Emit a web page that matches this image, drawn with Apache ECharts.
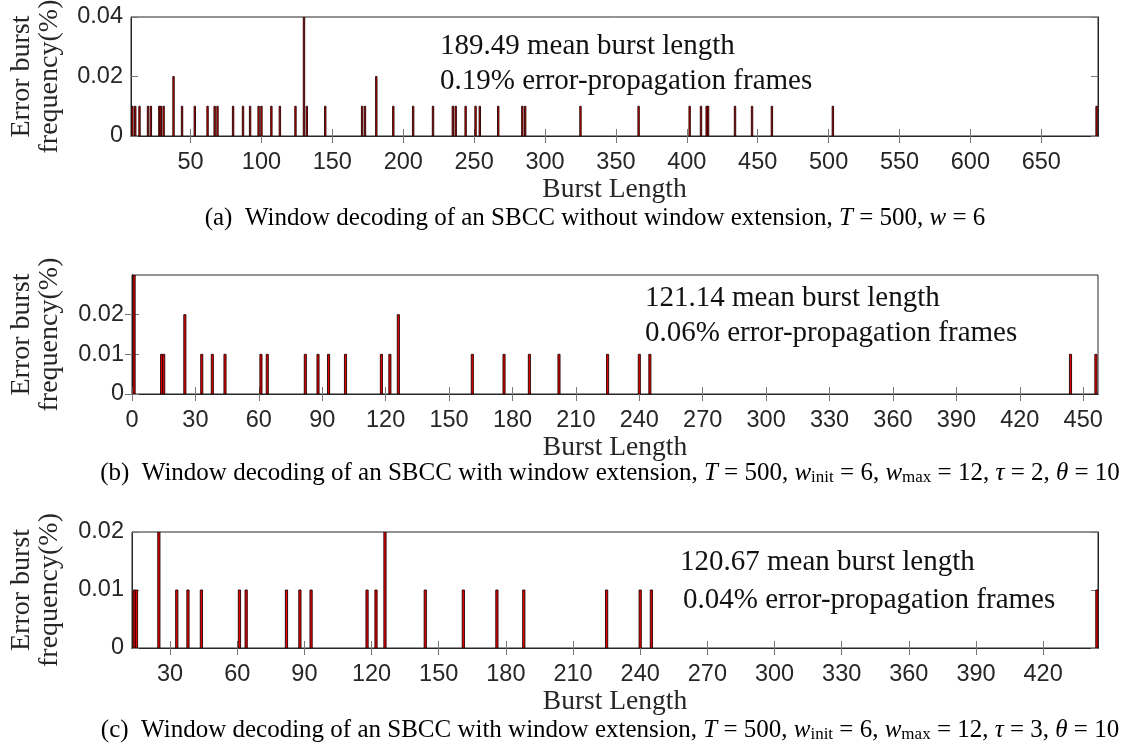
<!DOCTYPE html>
<html>
<head>
<meta charset="utf-8">
<script src="https://cdn.jsdelivr.net/npm/echarts@6/dist/echarts.min.js"></script>
<style>
html,body{margin:0;padding:0;background:#fff;}
#c{width:1125px;height:748px;}
</style>
</head>
<body>
<div id="c"></div>
<script>
// ---------------- data ----------------
var aLengths = [9, 11, 14, 20, 22, 28, 29, 31, 38, 44, 53, 62, 67, 69, 80, 87, 92, 98, 100, 107, 113, 124, 130, 132, 145, 171, 173, 181, 193, 207, 221, 235, 237, 244, 251, 254, 267, 284, 286, 325, 366, 402, 410, 414, 415, 434, 446, 460, 503, 689];
var aFreq    = [0.01,0.01,0.01,0.01,0.01,0.01,0.01,0.01,0.02,0.01,0.01,0.01,0.01,0.01,0.01,0.01,0.01,0.01,0.01,0.01,0.01,0.01,0.04,0.01,0.01,0.01,0.01,0.02,0.01,0.01,0.01,0.01,0.01,0.01,0.01,0.01,0.01,0.01,0.01,0.01,0.01,0.01,0.01,0.01,0.01,0.01,0.01,0.01,0.01,0.01];

var bLengths = [1, 14, 15, 25, 33, 38, 44, 61, 64, 82, 88, 93, 101, 118, 122, 126, 161, 176, 188, 202, 225, 240, 245, 444, 456];
var bFreq    = [0.03,0.01,0.01,0.02,0.01,0.01,0.01,0.01,0.01,0.01,0.01,0.01,0.01,0.01,0.01,0.02,0.01,0.01,0.01,0.01,0.01,0.01,0.01,0.01,0.01];

var cLengths = [14, 15, 25, 33, 38, 44, 61, 64, 82, 88, 93, 118, 122, 126, 144, 161, 176, 188, 225, 240, 245, 444];
var cFreq    = [0.01,0.01,0.02,0.01,0.01,0.01,0.01,0.01,0.01,0.01,0.01,0.01,0.01,0.02,0.01,0.01,0.01,0.01,0.01,0.01,0.01,0.01];

var aXTicks = [50,100,150,200,250,300,350,400,450,500,550,600,650];
var bXTicks = [0,30,60,90,120,150,180,210,240,270,300,330,360,390,420,450];
var cXTicks = [30,60,90,120,150,180,210,240,270,300,330,360,390,420];
var aYTicks = [0,0.02,0.04];
var bYTicks = [0,0.01,0.02];
var cYTicks = [0,0.01,0.02];

var aRange = [8, 690], bRange = [0, 457], cRange = [13, 444.5];
var aYMax = 0.04, bYMax = 0.03, cYMax = 0.02;

var aNote = ['189.49 mean burst length', '0.19% error-propagation frames'];
var bNote = ['121.14 mean burst length', '0.06% error-propagation frames'];
var cNote = ['120.67 mean burst length', '0.04% error-propagation frames'];

// ---------------- style ----------------
var SANS = '"Liberation Sans", Arial, Helvetica, sans-serif';
var SERIF = '"Liberation Serif", "Times New Roman", serif';
var AX = '#262626';

var grids = [
  {left:131, top:17,  width:967, height:119},
  {left:132, top:275, width:966, height:119},
  {left:132, top:532, width:966, height:116}
];
var panels = [
  {len:aLengths, fr:aFreq, xt:aXTicks, yt:aYTicks, xr:aRange, ym:aYMax},
  {len:bLengths, fr:bFreq, xt:bXTicks, yt:bYTicks, xr:bRange, ym:bYMax},
  {len:cLengths, fr:cFreq, xt:cXTicks, yt:cYTicks, xr:cRange, ym:cYMax}
];

var xAxes = [], yAxes = [], series = [], gridOpt = [];
panels.forEach(function(p, i){
  gridOpt.push(Object.assign({show:true, borderColor:AX, borderWidth:1, backgroundColor:'#fff'}, grids[i]));
  xAxes.push({
    type:'value', gridIndex:i, position:'bottom', min:p.xr[0], max:p.xr[1],
    splitLine:{show:false},
    axisLine:{show:true, lineStyle:{color:AX, width:1}},
    axisTick:{show:true, inside:true, length:7, lineStyle:{color:'#777'}, customValues:p.xt},
    axisLabel:{show:true, color:AX, fontFamily:SANS, fontSize:23.5, margin:15, customValues:p.xt},
    name:'Burst Length', nameLocation:'middle', nameGap:35,
    nameTextStyle:{fontFamily:SERIF, fontSize:27.5, color:AX}
  });
  xAxes.push({
    type:'value', gridIndex:i, position:'top', min:p.xr[0], max:p.xr[1],
    splitLine:{show:false},
    axisLine:{show:true, lineStyle:{color:AX, width:1}},
    axisTick:{show:true, inside:true, length:7, lineStyle:{color:'#777'}, customValues:p.xt},
    axisLabel:{show:false, customValues:p.xt}
  });
  yAxes.push({
    type:'value', gridIndex:i, position:'left', min:0, max:p.ym,
    splitLine:{show:false},
    axisLine:{show:true, lineStyle:{color:AX, width:1}},
    axisTick:{show:true, inside:true, length:7, lineStyle:{color:'#777'}, customValues:p.yt},
    axisLabel:{show:true, color:AX, fontFamily:SANS, fontSize:23.5, margin:8, customValues:p.yt,
      formatter:function(v){ return v === 0 ? '0' : (+v).toFixed(2); }}
  });
  yAxes.push({
    type:'value', gridIndex:i, position:'right', min:0, max:p.ym,
    splitLine:{show:false},
    axisLine:{show:true, lineStyle:{color:AX, width:1}},
    axisTick:{show:true, inside:true, length:7, lineStyle:{color:'#777'}, customValues:p.yt},
    axisLabel:{show:false, customValues:p.yt}
  });
  var data = p.len.map(function(x, k){ return [x, p.fr[k]]; });
  series.push({
    type:'custom', xAxisIndex:2*i, yAxisIndex:2*i, data:data, clip:true,
    renderItem:function(params, api){
      var x = api.value(0), y = api.value(1);
      var p0 = api.coord([x, 0]);
      var p1 = api.coord([x, y]);
      var w = api.size([1, 0])[0];
      return {type:'rect', shape:{x:p0[0]-w/2, y:p1[1], width:w, height:p0[1]-p1[1]},
        style:{fill:'#e60000', stroke:'#200000', lineWidth:0.9}};
    }
  });
});

function note(lines, x1, y1, x2, y2){
  return [
    {type:'text', x:x1, y:y1, style:{text:lines[0], font:'29px '+SERIF, fill:'#111', textAlign:'left', textVerticalAlign:'middle'}},
    {type:'text', x:x2, y:y2, style:{text:lines[1], font:'29px '+SERIF, fill:'#111', textAlign:'left', textVerticalAlign:'middle'}}
  ];
}
function ytitle(cy){
  return {type:'text', x:36, y:cy, rotation:Math.PI/2,
    style:{text:'Error burst\nfrequency(%)', font:'28px '+SERIF, lineHeight:28, fill:AX, textAlign:'center', textVerticalAlign:'middle'}};
}
function capRich(fs){
  return {
    rm:{fontFamily:SERIF, fontSize:fs, color:'#111'},
    it:{fontFamily:SERIF, fontSize:fs, fontStyle:'italic', color:'#111'},
    sub:{fontFamily:SERIF, fontSize:Math.round(fs*0.68), color:'#111', verticalAlign:'bottom', padding:[10,0,0,0]}
  };
}
function caption(txt, x, y, fs){
  return {type:'text', x:x, y:y, style:{text:txt, rich:capRich(fs), textAlign:'center', textVerticalAlign:'middle'}};
}

var graphics = [].concat(
  note(aNote, 440, 46, 440, 81),
  note(bNote, 645, 298, 645, 333),
  note(cNote, 680, 562, 683, 600),
  [ytitle(17+119/2), ytitle(275+119/2), ytitle(532+116/2)],
  [
    caption('{rm|(a)  Window decoding of an SBCC without window extension, }{it|T}{rm| = 500, }{it|w}{rm| = 6}', 595, 218, 25),
    caption('{rm|(b)  Window decoding of an SBCC with window extension, }{it|T}{rm| = 500, }{it|w}{sub|init}{rm| = 6, }{it|w}{sub|max}{rm| = 12, }{it|τ}{rm| = 2, }{it|θ}{rm| = 10}', 610, 473, 25),
    caption('{rm|(c)  Window decoding of an SBCC with window extension, }{it|T}{rm| = 500, }{it|w}{sub|init}{rm| = 6, }{it|w}{sub|max}{rm| = 12, }{it|τ}{rm| = 3, }{it|θ}{rm| = 10}', 610, 730, 25)
  ]
);

var chart = echarts.init(document.getElementById('c'), null, {renderer:'canvas'});
chart.setOption({
  animation:false,
  backgroundColor:'#fff',
  grid:gridOpt,
  xAxis:xAxes,
  yAxis:yAxes,
  series:series,
  graphic:graphics
});
</script>
</body>
</html>
